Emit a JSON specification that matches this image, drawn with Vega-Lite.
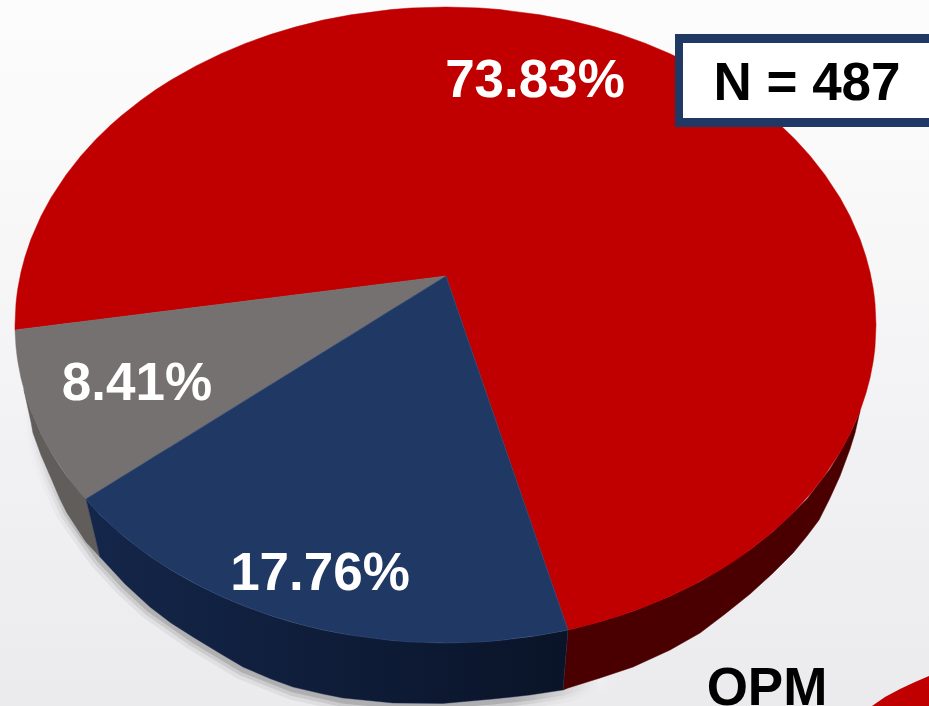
{
"$schema":"https://vega.github.io/schema/vega-lite/v6.json",
"width":929,"height":706,"padding":0,"autosize":{"type":"none"},
"background":"#f4f4f6",
"config":{"view":{"stroke":null}},
"datasets":{
"red":[{"x":15,"y":325,"y2":330},{"x":16,"y":303.3,"y2":329.9},{"x":17,"y":294.4,"y2":329.7},{"x":18,"y":287.5,"y2":329.6},{"x":21,"y":272.1,"y2":329.2},{"x":25,"y":256.9,"y2":328.7},{"x":31,"y":239.1,"y2":328},{"x":41,"y":216.2,"y2":326.7},{"x":51,"y":197.7,"y2":325.5},{"x":66,"y":174.9,"y2":323.6},{"x":81,"y":155.8,"y2":321.7},{"x":96,"y":139.3,"y2":319.9},{"x":111,"y":124.8,"y2":318},{"x":121,"y":116,"y2":316.7},{"x":141,"y":100.2,"y2":314.2},{"x":156,"y":89.6,"y2":312.3},{"x":171,"y":80,"y2":310.5},{"x":196,"y":65.9,"y2":307.3},{"x":221,"y":53.7,"y2":304.2},{"x":246,"y":43.2,"y2":301.1},{"x":271,"y":34.3,"y2":297.9},{"x":296,"y":26.8,"y2":294.8},{"x":323,"y":20.1,"y2":291.4},{"x":351,"y":14.8,"y2":287.9},{"x":391,"y":9.6,"y2":282.9},{"x":411,"y":8,"y2":280.4},{"x":446,"y":7,"y2":276},{"x":480,"y":8,"y2":374.7},{"x":500,"y":9.6,"y2":432.7},{"x":540,"y":14.8,"y2":548.8},{"x":568,"y":20.1,"y2":630},{"x":595,"y":26.8,"y2":623.2},{"x":620,"y":34.3,"y2":615.7},{"x":645,"y":43.2,"y2":606.8},{"x":670,"y":53.7,"y2":596.3},{"x":695,"y":65.9,"y2":584.1},{"x":720,"y":80,"y2":570},{"x":735,"y":89.6,"y2":560.4},{"x":750,"y":100.2,"y2":549.8},{"x":770,"y":116,"y2":534},{"x":780,"y":124.8,"y2":525.2},{"x":795,"y":139.3,"y2":510.7},{"x":810,"y":155.8,"y2":494.2},{"x":825,"y":174.9,"y2":475.1},{"x":840,"y":197.7,"y2":452.3},{"x":850,"y":216.2,"y2":433.8},{"x":860,"y":239.1,"y2":410.9},{"x":866,"y":256.9,"y2":393.1},{"x":870,"y":272.1,"y2":377.9},{"x":873,"y":287.5,"y2":362.5},{"x":874,"y":294.4,"y2":355.6},{"x":875,"y":303.3,"y2":346.7},{"x":876,"y":325,"y2":325}],
"gray":[{"x":15,"y":330,"y2":330},{"x":16,"y":329.9,"y2":346.7},{"x":17,"y":329.7,"y2":355.6},{"x":18,"y":329.6,"y2":362.5},{"x":21,"y":329.2,"y2":377.9},{"x":25,"y":328.7,"y2":393.1},{"x":31,"y":328,"y2":410.9},{"x":41,"y":326.7,"y2":433.8},{"x":51,"y":325.5,"y2":452.3},{"x":66,"y":323.6,"y2":475.1},{"x":81,"y":321.7,"y2":494.2},{"x":86,"y":321.1,"y2":499},{"x":446,"y":276,"y2":276}],
"blue":[{"x":86,"y":499,"y2":499},{"x":96,"y":492.8,"y2":510.7},{"x":111,"y":483.5,"y2":525.2},{"x":121,"y":477.3,"y2":534},{"x":141,"y":464.9,"y2":549.8},{"x":156,"y":455.6,"y2":560.4},{"x":171,"y":446.4,"y2":570},{"x":196,"y":430.9,"y2":584.1},{"x":221,"y":415.4,"y2":596.3},{"x":246,"y":399.9,"y2":606.8},{"x":271,"y":384.4,"y2":615.7},{"x":296,"y":369,"y2":623.2},{"x":323,"y":352.2,"y2":629.9},{"x":351,"y":334.9,"y2":635.2},{"x":391,"y":310.1,"y2":640.4},{"x":411,"y":297.7,"y2":642},{"x":446,"y":276,"y2":643},{"x":480,"y":374.7,"y2":642},{"x":500,"y":432.7,"y2":640.4},{"x":540,"y":548.8,"y2":635.2},{"x":568,"y":630,"y2":630}],
"grayRim":[{"x":24,"y":389.7,"y2":390},{"x":31,"y":410.9,"y2":422},{"x":33,"y":415,"y2":433},{"x":41,"y":433.8,"y2":455},{"x":51,"y":452.3,"y2":478},{"x":60,"y":466.6,"y2":499},{"x":67,"y":476.6,"y2":513},{"x":86,"y":499,"y2":542},{"x":100,"y":557,"y2":557}],
"blueRim":[{"x":86,"y":499,"y2":499},{"x":100,"y":514.7,"y2":557},{"x":125,"y":537.3,"y2":584},{"x":150,"y":556.3,"y2":607},{"x":171,"y":570,"y2":623},{"x":193,"y":582.6,"y2":637},{"x":221,"y":596.3,"y2":654},{"x":243,"y":605.6,"y2":667},{"x":271,"y":615.7,"y2":679},{"x":293,"y":622.4,"y2":687},{"x":323,"y":629.9,"y2":694},{"x":343,"y":633.8,"y2":698},{"x":393,"y":640.6,"y2":703},{"x":443,"y":643,"y2":703.5},{"x":493,"y":641,"y2":699},{"x":530,"y":636.8,"y2":695},{"x":563,"y":630.9,"y2":690},{"x":568,"y":630,"y2":630}],
"redRim":[{"x":563,"y":690,"y2":690},{"x":568,"y":630,"y2":688},{"x":600,"y":621.8,"y2":678},{"x":633,"y":611.3,"y2":667},{"x":670,"y":596.3,"y2":650},{"x":700,"y":581.5,"y2":633},{"x":725,"y":566.5,"y2":614},{"x":750,"y":549.8,"y2":594},{"x":772,"y":532.5,"y2":574},{"x":793,"y":512.7,"y2":553},{"x":807,"y":499,"y2":536},{"x":819,"y":483,"y2":520},{"x":830,"y":469,"y2":498},{"x":840,"y":452.3,"y2":476},{"x":850,"y":433.8,"y2":449},{"x":855,"y":423,"y2":433},{"x":860,"y":410.9,"y2":411}],
"shadow":[{"x":24,"y":392},{"x":33,"y":435},{"x":50,"y":477},{"x":67,"y":513},{"x":100,"y":559},{"x":125,"y":586},{"x":150,"y":609},{"x":193,"y":639},{"x":243,"y":669},{"x":293,"y":689},{"x":343,"y":700},{"x":393,"y":705},{"x":443,"y":705},{"x":493,"y":701},{"x":530,"y":697},{"x":563,"y":692},{"x":600,"y":682}],
"nextPie":[{"x":872,"y":706,"y2":706},{"x":885,"y":697,"y2":706},{"x":900,"y":689,"y2":706},{"x":915,"y":682,"y2":706},{"x":929,"y":676,"y2":706}],
"frame":[{"x":0,"x2":929,"y":0,"y2":706}],
"box":[{"x":675,"x2":929,"y":34,"y2":127}],
"boxInner":[{"x":683,"x2":929,"y":43,"y2":118}],
"whiteLabels":[{"x":535,"y":97,"label":"73.83%"},{"x":137,"y":400,"label":"8.41%"},{"x":320,"y":590,"label":"17.76%"}],
"blackLabels":[{"x":807,"y":100,"label":"N = 487"},{"x":767,"y":705,"label":"OPM"}]
},
"encoding":{
"x":{"field":"x","type":"quantitative","axis":null,"scale":{"domain":[0,929],"nice":false,"zero":false}},
"y":{"field":"y","type":"quantitative","axis":null,"stack":null,"scale":{"domain":[0,706],"reverse":true,"nice":false,"zero":false}}
},
"layer":[
{"data":{"name":"frame"},"mark":{"type":"rect","fill":{"gradient":"linear","x1":0,"y1":0,"x2":0,"y2":1,"stops":[{"offset":0,"color":"#fcfcfc"},{"offset":0.3,"color":"#f8f8f9"},{"offset":0.6,"color":"#f2f2f4"},{"offset":1,"color":"#ebebee"}]}},"encoding":{"x2":{"field":"x2"},"y2":{"field":"y2"}}},
{"data":{"name":"shadow"},"mark":{"type":"line","strokeWidth":22,"strokeOpacity":0.08,"strokeCap":"round","stroke":{"gradient":"linear","x1":0,"y1":0,"x2":1,"y2":0,"stops":[{"offset":0,"color":"#f4f4f6"},{"offset":0.1,"color":"#444444"},{"offset":0.85,"color":"#444444"},{"offset":1,"color":"#f4f4f6"}]}}},
{"data":{"name":"shadow"},"mark":{"type":"line","strokeWidth":14,"strokeOpacity":0.13,"strokeCap":"round","stroke":{"gradient":"linear","x1":0,"y1":0,"x2":1,"y2":0,"stops":[{"offset":0,"color":"#f4f4f6"},{"offset":0.1,"color":"#444444"},{"offset":0.85,"color":"#444444"},{"offset":1,"color":"#f4f4f6"}]}}},
{"data":{"name":"shadow"},"mark":{"type":"line","strokeWidth":7,"strokeOpacity":0.2,"strokeCap":"round","stroke":{"gradient":"linear","x1":0,"y1":0,"x2":1,"y2":0,"stops":[{"offset":0,"color":"#f4f4f6"},{"offset":0.1,"color":"#444444"},{"offset":0.85,"color":"#444444"},{"offset":1,"color":"#f4f4f6"}]}}},
{"data":{"name":"grayRim"},"mark":{"type":"area","orient":"vertical","fill":"#605d5b","stroke":"#605d5b","strokeWidth":0.5},"encoding":{"y2":{"field":"y2"}}},
{"data":{"name":"redRim"},"mark":{"type":"area","orient":"vertical","fill":"#4a0000","stroke":"#4a0000","strokeWidth":0.5},"encoding":{"y2":{"field":"y2"}}},
{"data":{"name":"blueRim"},"mark":{"type":"area","orient":"vertical","fill":{"gradient":"linear","x1":0,"y1":0,"x2":1,"y2":0,"stops":[{"offset":0,"color":"#14264a"},{"offset":0.6,"color":"#0e1b36"},{"offset":1,"color":"#0a1428"}]},"stroke":"#1c2c50","strokeWidth":0.4},"encoding":{"y2":{"field":"y2"}}},
{"data":{"name":"red"},"mark":{"type":"area","orient":"vertical","fill":"#c00000","stroke":"#c00000","strokeWidth":0.5},"encoding":{"y2":{"field":"y2"}}},
{"data":{"name":"gray"},"mark":{"type":"area","orient":"vertical","fill":"#767171","stroke":"#767171","strokeWidth":0.5},"encoding":{"y2":{"field":"y2"}}},
{"data":{"name":"blue"},"mark":{"type":"area","orient":"vertical","fill":"#203864","stroke":"#2b4470","strokeWidth":0.6},"encoding":{"y2":{"field":"y2"}}},
{"data":{"name":"nextPie"},"mark":{"type":"area","orient":"vertical","fill":"#c00000"},"encoding":{"y2":{"field":"y2"}}},
{"data":{"name":"box"},"mark":{"type":"rect","fill":"#1f3864"},"encoding":{"x2":{"field":"x2"},"y2":{"field":"y2"}}},
{"data":{"name":"boxInner"},"mark":{"type":"rect","fill":"#ffffff"},"encoding":{"x2":{"field":"x2"},"y2":{"field":"y2"}}},
{"data":{"name":"whiteLabels"},"mark":{"type":"text","font":"Liberation Sans","fontWeight":"bold","fontSize":53,"fill":"#ffffff","align":"center","baseline":"alphabetic"},"encoding":{"text":{"field":"label"}}},
{"data":{"name":"blackLabels"},"mark":{"type":"text","font":"Liberation Sans","fontWeight":"bold","fontSize":53,"fill":"#000000","align":"center","baseline":"alphabetic"},"encoding":{"text":{"field":"label"}}}
]
}
